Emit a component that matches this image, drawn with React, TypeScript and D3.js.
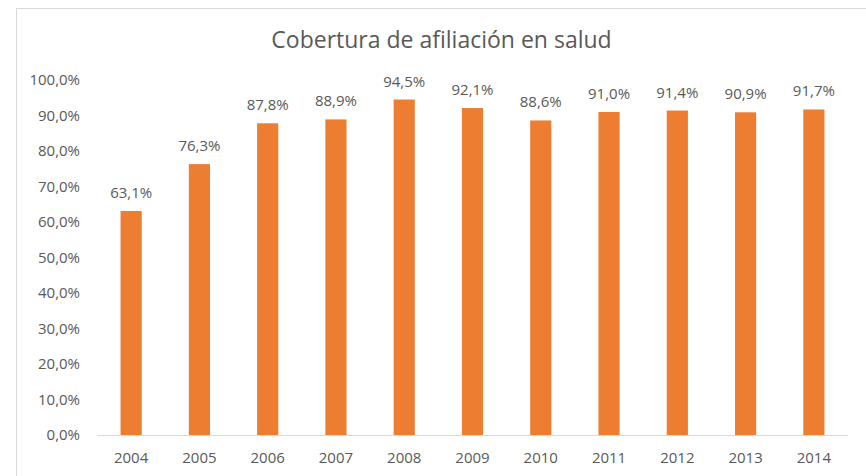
import React from "react";
import * as d3 from "d3";

const years = ["2004", "2005", "2006", "2007", "2008", "2009", "2010", "2011", "2012", "2013", "2014"];
const coverage = [63.1, 76.3, 87.8, 88.9, 94.5, 92.1, 88.6, 91.0, 91.4, 90.9, 91.7];
const yTicks = [0, 10, 20, 30, 40, 50, 60, 70, 80, 90, 100];
const title = "Cobertura de afiliación en salud";

const W = 866;
const H = 476;
const FONT = "'Open Sans', 'Noto Sans', sans-serif";
const TEXT = "#595959";

export default function App() {
  const x = d3.scaleBand<string>().domain(years).range([97, 848]).paddingInner(0.69).paddingOuter(0.345);
  const y = d3.scaleLinear().domain([0, 100]).range([435, 80]);
  const fmt = (v: number) => v.toFixed(1).replace(".", ",") + "%";

  return (
    <svg width={W} height={H} style={{ position: "absolute", left: 0, top: 0, background: "#fff" }}>
      <line x1={16.5} x2={16.5} y1={8} y2={H} stroke="#d9d9d9" />
      <line x1={16} x2={W} y1={8.5} y2={8.5} stroke="#d9d9d9" />
      <text x={441.5} y={48} textAnchor="middle" fontFamily={FONT} fontSize={23} fill={TEXT}>
        {title}
      </text>
      {yTicks.map((t) => (
        <text key={t} x={80} y={y(t) + 5} textAnchor="end" fontFamily={FONT} fontSize={15} fill={TEXT}>
          {fmt(t)}
        </text>
      ))}
      {years.map((yr, i) => (
        <g key={yr}>
          <rect x={x(yr)} y={y(coverage[i])} width={x.bandwidth()} height={y(0) - y(coverage[i])} fill="#ED7D31" />
          <text x={(x(yr) as number) + x.bandwidth() / 2} y={y(coverage[i]) - 13} textAnchor="middle" fontFamily={FONT} fontSize={15} fill={TEXT}>
            {fmt(coverage[i])}
          </text>
          <text x={(x(yr) as number) + x.bandwidth() / 2} y={463} textAnchor="middle" fontFamily={FONT} fontSize={15} fill={TEXT}>
            {yr}
          </text>
        </g>
      ))}
      <line x1={97} x2={848} y1={435.5} y2={435.5} stroke="#d9d9d9" />
    </svg>
  );
}
